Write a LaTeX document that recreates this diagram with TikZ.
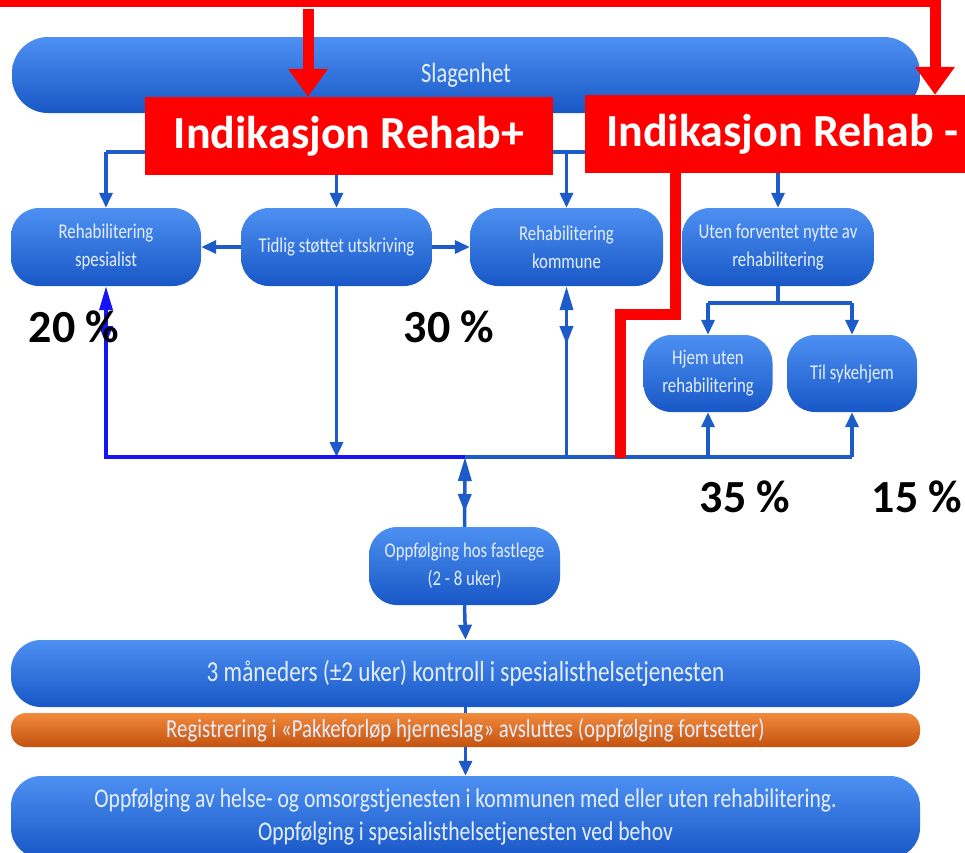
\documentclass[tikz,border=0pt]{standalone}
\usepackage{fontspec}
\setmainfont{Carlito}
\newfontfamily\boxfont[FakeStretch=0.8]{Carlito}
\usetikzlibrary{arrows.meta,decorations.markings}
\definecolor{pilltop}{HTML}{4D90F2}
\definecolor{pillbot}{HTML}{1857C6}
\definecolor{pilltext}{HTML}{E4EEFF}
\definecolor{connblue}{HTML}{1D5BC8}
\definecolor{brightblue}{HTML}{1515F5}
\definecolor{orangetop}{HTML}{F28A3C}
\definecolor{orangebot}{HTML}{C4520F}
\definecolor{redmark}{HTML}{FF0000}
\begin{document}
\begin{tikzpicture}[x=1pt,y=-1pt,
  pill/.style={rounded corners=#1, top color=pilltop, bottom color=pillbot, draw=none,
    text=pilltext, align=center, inner sep=0pt, font=\boxfont\fontsize{21}{28}\selectfont},
  pill/.default=28pt,
  orangebar/.style={rounded corners=15pt, top color=orangetop, bottom color=orangebot, draw=none,
    text=pilltext, align=center, inner sep=0pt},
  connline/.style={draw=connblue, line width=3.5pt},
  brightline/.style={draw=brightblue, line width=3.5pt},
  connarrow/.style={connline, -{Triangle[width=13pt,length=15pt]}},
  uptip/.style={{Triangle[width=13pt,length=24pt]}-},
  midtip/.style={postaction={decorate,decoration={markings,
      mark=at position #1 with {\arrow{Triangle[width=13pt,length=18pt]}}}}},
  redbox/.style={fill=redmark, text=white, inner sep=0pt, font=\bfseries\fontsize{46}{50}\selectfont},
  redline/.style={draw=redmark, line width=11pt},
  redarrow/.style={redline, -{Triangle[width=38pt,length=28pt]}},
  pct/.style={text=black, inner sep=0pt, font=\bfseries\fontsize{46}{50}\selectfont}
]
\useasboundingbox (0,0) rectangle (965,852);
\fill[white] (0,0) rectangle (965,852);
\clip (0,0) rectangle (965,852);

% ---- blue boxes
\node[pill=36pt, minimum width=908pt, minimum height=76pt, font=\boxfont\fontsize{28}{30}\selectfont] (slag) at (466,75) {Slagenhet};
\node[pill, minimum width=190pt, minimum height=78pt] (spes) at (106,247) {Rehabilitering\\spesialist};
\node[pill, minimum width=191pt, minimum height=78pt] (tidlig) at (336.5,247) {Tidlig støttet utskriving};
\node[pill, minimum width=193pt, minimum height=78pt] (komm) at (566.5,247) {Rehabilitering\\kommune};
\node[pill, minimum width=192pt, minimum height=78pt] (uten) at (778,247) {Uten forventet nytte av\\rehabilitering};
\node[pill, minimum width=129pt, minimum height=77pt] (hjem) at (708,373.5) {Hjem uten\\rehabilitering};
\node[pill, minimum width=130pt, minimum height=77pt] (syke) at (852,373.5) {Til sykehjem};
\node[pill, minimum width=191pt, minimum height=78pt] (fast) at (464.5,566) {Oppfølging hos fastlege\\(2 - 8 uker)};
\node[pill=30pt, minimum width=909pt, minimum height=67pt, font=\boxfont\fontsize{29}{32}\selectfont] (mnd) at (465.5,673.5) {3 måneders (±2 uker) kontroll i spesialisthelsetjenesten};
\node[orangebar, minimum width=909pt, minimum height=34pt, font=\boxfont\fontsize{26}{28}\selectfont] (reg) at (465.5,730) {Registrering i «Pakkeforløp hjerneslag» avsluttes (oppfølging fortsetter)};
\node[pill=30pt, minimum width=909pt, minimum height=82pt, font=\boxfont\fontsize{27}{33}\selectfont] (oppf) at (465.5,817) {Oppfølging av helse- og omsorgstjenesten i kommunen med eller uten rehabilitering.\\Oppfølging i spesialisthelsetjenesten ved behov};

% ---- junction coordinates
\coordinate (bl) at (106,152);
\coordinate (br) at (778,152);
\coordinate (usplit) at (778,303);
\coordinate (jspes) at (106,457);
\coordinate (jtid) at (336.5,457);
\coordinate (cj) at (465,457);
\coordinate (jkomm) at (566.5,457);
\coordinate (jhjem) at (708,457);
\coordinate (jsyke) at (852,457);

% ---- top distribution
\draw[connline] (slag.south) -- (slag.south |- bl);
\draw[connline] (bl) -- (br);
\draw[connarrow] (bl) -- (spes.north);
\draw[connarrow] (tidlig.north |- bl) -- (tidlig.north);
\draw[connarrow] (komm.north |- bl) -- (komm.north);
\draw[connarrow] (br) -- (uten.north);

% ---- row connectors
\draw[connarrow] (tidlig.west) -- (spes.east);
\draw[connarrow] (tidlig.east) -- (komm.west);
\draw[connarrow] (tidlig.south) -- (jtid);
\draw[connline] (uten.south) -- (usplit);
\draw[connline] (hjem.north |- usplit) -- (syke.north |- usplit);
\draw[connarrow] (hjem.north |- usplit) -- (hjem.north);
\draw[connarrow] (syke.north |- usplit) -- (syke.north);

% ---- lower collector line
\draw[connline] (cj) -- (jsyke);
\draw[connline, uptip, midtip=58pt] (komm.south) -- (jkomm);
\draw[connarrow] (jhjem) -- (hjem.south);
\draw[connarrow] (jsyke) -- (syke.south);
\draw[brightline, uptip, midtip=58pt] (spes.south) -- (jspes) -- (cj);
\draw[connline, uptip, midtip=55pt] (cj) -- (fast.north);

% ---- lower chain
\draw[connarrow] (fast.south) -- (mnd.north);
\draw[connline] (mnd.south) -- (reg.north);
\draw[connarrow] (reg.south) -- (oppf.north);

% ---- percentages
\node[pct] (p20) at (74,327) {20 \%};
\node[pct] (p30) at (449,327) {30 \%};
\node[pct] (p35) at (745,497) {35 \%};
\node[pct] (p15) at (917,497) {15 \%};

% ---- red overlay
\node[redbox, minimum width=408pt, minimum height=78pt] (rp) at (349,136) {Indikasjon Rehab+};
\node[redbox, anchor=west, inner xsep=21pt, minimum height=78pt] (rm) at (585,134) {Indikasjon Rehab -};
\coordinate (rtl) at (0,1);
\coordinate (rtr) at (935,1);
\coordinate (rls) at (308,9);
\coordinate (rend) at (620,458);
\draw[redline] (rtl) -- ([xshift=5.5pt]rtr);
\draw[redarrow] (rtr) -- (rm.north -| rtr);
\draw[redarrow] (rls) -- (rp.north -| rls);
\draw[redline] (rm.south -| 675,0) |- (620,314) -- (rend);
\end{tikzpicture}
\end{document}
